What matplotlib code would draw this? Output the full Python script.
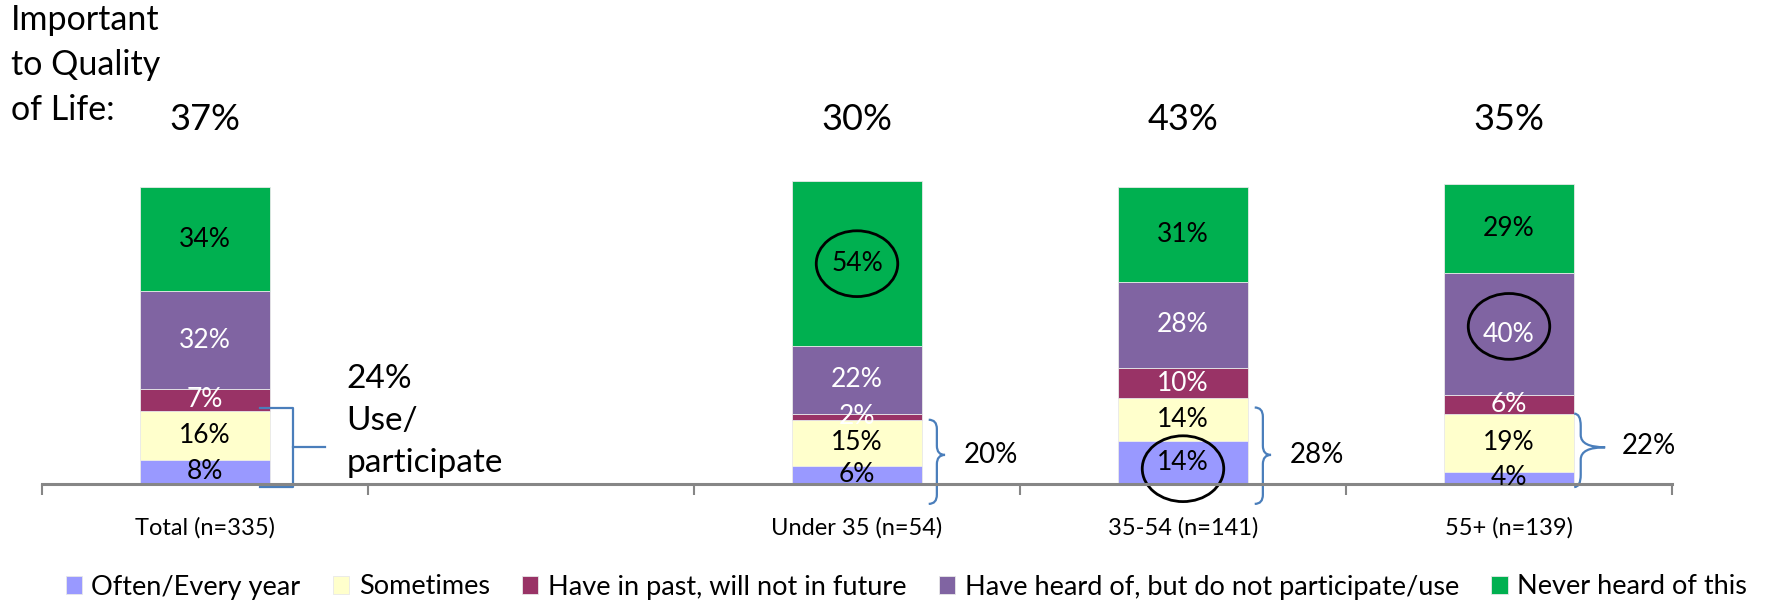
import numpy as np
import matplotlib.pyplot as plt
from matplotlib.patches import Ellipse, PathPatch
from matplotlib.path import Path

plt.rcParams['font.family'] = ['Lato', 'DejaVu Sans']

# data
categories = ['Total (n=335)', '', 'Under 35 (n=54)', '35-54 (n=141)', '55+ (n=139)']
group_pos = [0, 2, 3, 4]
often = [8, 6, 14, 4]
sometimes = [16, 15, 14, 19]
past = [7, 2, 10, 6]
heard = [32, 22, 28, 40]
never = [34, 54, 31, 29]
important = [37, 30, 43, 35]
use_pct = [24, 20, 28, 22]
series_names = ['Often/Every year', 'Sometimes', 'Have in past, will not in future',
                'Have heard of, but do not participate/use', 'Never heard of this']

colors = ['#9999FF', '#FFFFCC', '#993366', '#8064A2', '#00B050']
txt_colors = ['black', 'black', 'white', 'white', 'black']
series = [often, sometimes, past, heard, never]

W, H = 1777, 603
fig = plt.figure(figsize=(W / 100, H / 100), dpi=100)
ax = fig.add_axes([42 / W, (H - 484) / H, (1672 - 42) / W, 306 / H])

bottoms = np.zeros(len(group_pos))
handles = []
seg_centers = []
for vals, col, tc, name in zip(series, colors, txt_colors, series_names):
    vals = np.array(vals, dtype=float)
    b = ax.bar(group_pos, vals, bottom=bottoms, width=0.4, color=col,
               edgecolor='#e8e8e8', linewidth=0.6, label=name)
    handles.append(b)
    centers = bottoms + vals / 2
    seg_centers.append(centers)
    for x, v, c in zip(group_pos, vals, centers):
        ax.text(x, c, f'{int(v)}%', ha='center', va='center', fontsize=19, color=tc)
    bottoms = bottoms + vals

# importance percentages on top
for x, v in zip(group_pos, important):
    ax.text(x, 119, f'{v}%', ha='center', va='center', fontsize=26, clip_on=False)

# highlight ellipses (group index, series index)
for gi, si, dy in [(1, 4, 0), (2, 0, -2), (3, 3, 2.5)]:
    e = Ellipse((group_pos[gi], seg_centers[si][gi] + dy), 0.25, 21.5,
                fill=False, edgecolor='black', linewidth=2, clip_on=False)
    ax.add_patch(e)

# brackets for "use/participate"
bcol = '#4A7EBB'


def curly(x0, xv, xt, ytop, ymid, ybot, r=2.5):
    verts = [(x0, ytop), (xv, ytop), (xv, ytop - r),
             (xv, ymid + r), (xv, ymid), (xt, ymid),
             (xv, ymid), (xv, ymid - r),
             (xv, ybot + r), (xv, ybot), (x0, ybot)]
    codes = [Path.MOVETO, Path.CURVE3, Path.CURVE3,
             Path.LINETO, Path.CURVE3, Path.CURVE3,
             Path.CURVE3, Path.CURVE3,
             Path.LINETO, Path.CURVE3, Path.CURVE3]
    ax.add_patch(PathPatch(Path(verts, codes), facecolor='none', edgecolor=bcol,
                           linewidth=1.6, clip_on=False))


# Total: square bracket
top0 = often[0] + sometimes[0]
ax.plot([0.17, 0.27, 0.27, 0.17], [top0 + 1, top0 + 1, -1, -1], color=bcol, lw=1.6, clip_on=False)
ax.plot([0.27, 0.368], [12, 12], color=bcol, lw=1.6, clip_on=False)
ax.text(0.433, 20.5, f'{use_pct[0]}%\nUse/\nparticipate', ha='left', va='center',
        fontsize=24, linespacing=1.5)

# Under 35 and 35-54
for gi in [1, 2]:
    x = group_pos[gi]
    top = often[gi] + sometimes[gi]
    curly(x + 0.22, x + 0.245, x + 0.27, min(top, 25), 9.5, -6.5, r=3)
    ax.text(x + 0.41, 9.5, f'{use_pct[gi]}%', ha='center', va='center', fontsize=20)

# 55+
x = group_pos[3]
top = often[3] + sometimes[3]
curly(x + 0.2, x + 0.22, x + 0.295, top, 12, -1, r=4)
ax.text(x + 0.43, 12.5, f'{use_pct[3]}%', ha='center', va='center', fontsize=20)

# axes styling
ax.set_xlim(-0.5, 4.5)
ax.set_ylim(0, 100)
for s in ['left', 'right', 'top']:
    ax.spines[s].set_visible(False)
ax.spines['bottom'].set_color('#868686')
ax.spines['bottom'].set_linewidth(2.2)
ax.set_yticks([])
ax.set_xticks(range(len(categories)))
ax.set_xticklabels(categories, fontsize=17)
ax.tick_params(axis='x', which='major', length=0, pad=24)
ax.set_xticks(np.arange(-0.5, 5, 1), minor=True)
ax.tick_params(axis='x', which='minor', length=8, width=1.5, color='#868686', direction='out')

fig.text(11 / W, 1 - 4 / H, 'Important\nto Quality\nof Life:', ha='left', va='top',
         fontsize=24.5, linespacing=1.5)

fig.legend(handles=handles, labels=series_names, ncol=5, loc='center',
           bbox_to_anchor=(0.51, 1 - 587 / H), frameon=False, fontsize=19.5,
           handlelength=0.6, handleheight=0.6, handletextpad=0.35, columnspacing=1.2)

plt.savefig('out.png', dpi=100)
